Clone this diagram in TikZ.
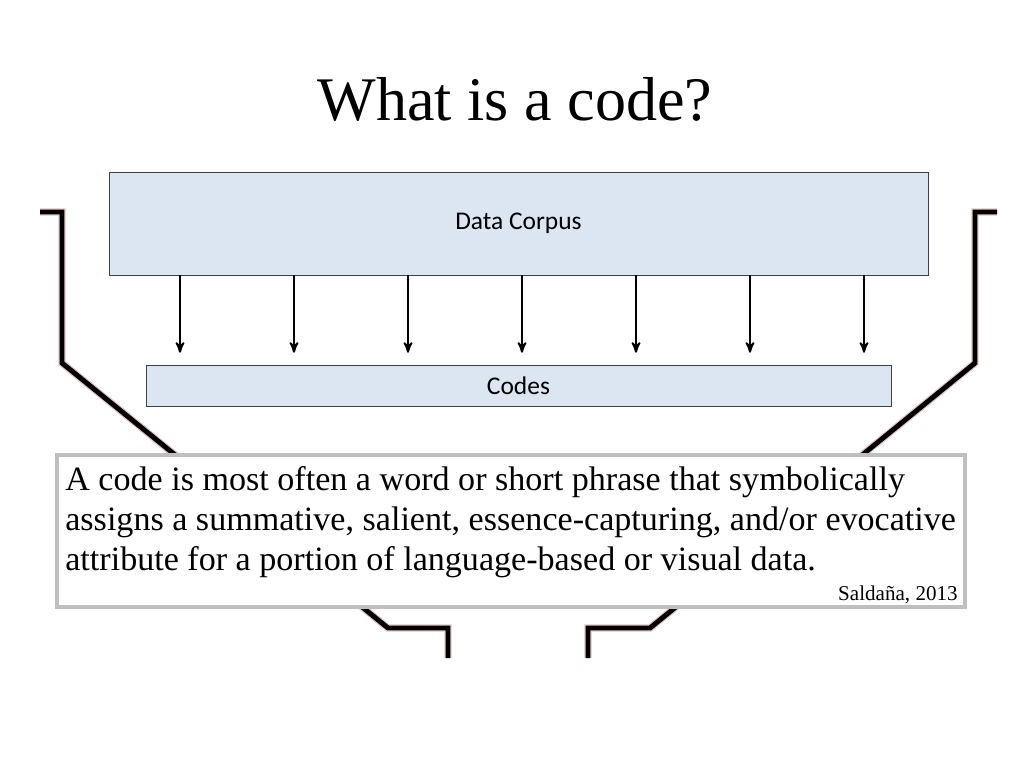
\documentclass[tikz,border=0pt]{standalone}
\usepackage{fontspec}
\setmainfont{Liberation Serif}
\newfontfamily\calibri{Carlito}
\usetikzlibrary{calc}
\usetikzlibrary{arrows}
\definecolor{boxblue}{RGB}{220,230,242}
\definecolor{glow}{RGB}{205,140,140}

\begin{document}
\begin{tikzpicture} [x=0.02cm, y=-0.02cm,
  box/.style={draw=black!75, fill=boxblue, inner sep=0, font=\calibri\fontsize{14.5}{16}\selectfont},
  flow/.style={black, line width=1.1pt, ->, >=stealth', shorten >=6.8pt},
  funnel/.style={black, line width=2.8pt, line join=miter},
  halo/.style={glow, line width=4.2pt, opacity=.5}]
\useasboundingbox[fill=white] (0,0) rectangle (1024,768);
\node[anchor=base, font=\fontsize{35.3}{40}\selectfont] (title) at (515,120) {What is a code?};
\node[box, minimum width=16.38cm, minimum height=2.06cm] (corpus) at (518.5,223.5) {Data Corpus};
\node[box, minimum width=14.9cm, minimum height=0.82cm] (codes) at (518.5,385.5) {Codes};
\foreach \x in {180,294,...,864} {
  \coordinate (tap) at (\x,0);
  \draw[flow] (corpus.south -| tap) -- (codes.north -| tap);
}
\foreach \s in {halo, funnel} {
  \draw[\s] (40,212) -- (62,212) -- (62,363) -- (388,628) -- (448,628) -- (448,658);
  \draw[\s] (997,212) -- (975,212) -- (975,363) -- (650,628) -- (588,628) -- (588,658);
}
\node[draw=black!25, line width=2.2pt, fill=white, minimum width=18.16cm, minimum height=3.04cm] (quote) at (511,531) {};
\node[anchor=north west, align=left, inner sep=0, font=\fontsize{19.4}{22.7}\selectfont] (def) at (65,466)
  {A code is most often a word or short phrase that symbolically\\
   assigns a summative, salient, essence-capturing, and/or evocative\\
   attribute for a portion of language-based or visual data.};
\node[anchor=base east, inner sep=0, font=\fontsize{12}{14}\selectfont] (cite) at (958,600) {Saldaña, 2013};
\end{tikzpicture}
\end{document}
